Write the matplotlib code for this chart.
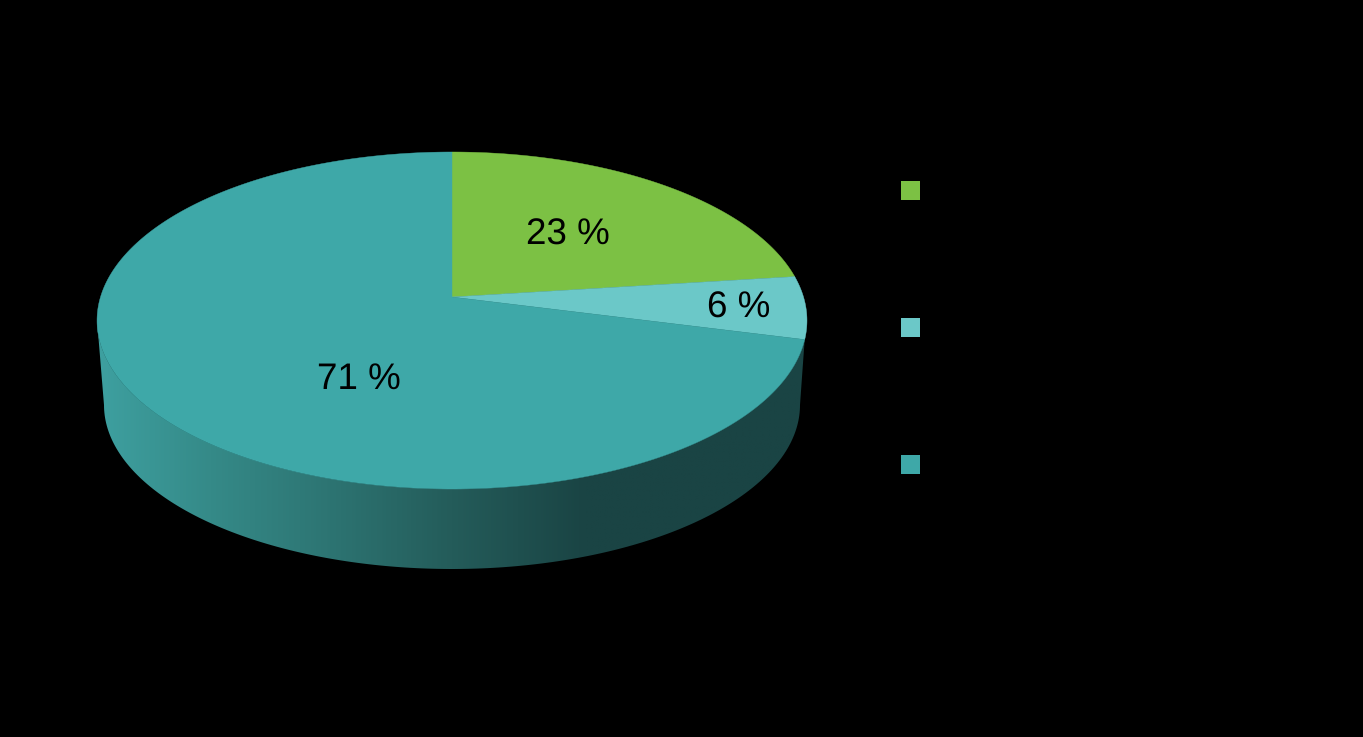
import numpy as np
import matplotlib.pyplot as plt
from matplotlib.colors import LinearSegmentedColormap
from matplotlib.patches import Polygon, Rectangle

plt.rcParams['font.family'] = ['Liberation Sans', 'DejaVu Sans']
plt.rcParams['text.hinting'] = 'no_hinting'

# shares, clockwise from 12 o'clock
shares = [23, 6, 71]
slice_colors = ['#7cc144', '#6bc8c8', '#3ea8a8']
label_pos = [(568, 235), (739, 308), (359, 379)]
legend_y = [181, 318, 455]

side_stops = [(97, '#3ea0a0'), (210, '#358a88'), (300, '#2f7a78'),
              (452, '#245c5a'), (585, '#1a4444'), (807, '#1a4444')]


def project(pct):
    # circle -> screen, perspective so the apex sits above the ellipse centre
    a = np.radians(np.asarray(pct) * 3.6)
    u, v = np.sin(a), np.cos(a)
    w = 1 + 0.1395 * v
    return np.column_stack([452 + 351.5 * u / w, (297 - 123.8 * v) / w])


def rim(start, end):
    return project(np.linspace(start, end, 300))


fig = plt.figure(figsize=(13.63, 7.37), dpi=100, facecolor='black')
ax = fig.add_axes([0, 0, 1, 1])
ax.set_facecolor('black')
ax.axis('off')

# side of the disc, gradient clipped to the outline
t = np.radians(np.linspace(0, 180, 200))
bottom = np.column_stack([452 + 348 * np.cos(t), 405 + 164 * np.sin(t)])
# front part of the top rim, right edge round to the leftmost point
front = rim(29, 72.8)
outline = np.vstack([bottom, front[::-1]])
side = Polygon(outline, closed=True, fc='none', ec='none')
ax.add_patch(side)
xs, cols = zip(*side_stops)
pos = (np.array(xs) - xs[0]) / (xs[-1] - xs[0])
cmap = LinearSegmentedColormap.from_list('side', list(zip(pos, cols)))
grad = ax.imshow(np.linspace(0, 1, 512)[None, :], cmap=cmap, aspect='auto',
                 extent=[xs[0], xs[-1], 570, 300], interpolation='bilinear')
grad.set_clip_path(side)

# top face
edges = np.cumsum([0] + shares)
for i, color in enumerate(slice_colors):
    pts = np.vstack([[[452, 297]], rim(edges[i], edges[i + 1])])
    ax.add_patch(Polygon(pts, closed=True, fc=color, ec=color, lw=0.3))

for share, (x, y) in zip(shares, label_pos):
    ax.text(x, y, f'{share} %', fontsize=26.5, color='black', ha='center', va='center')

# legend keys (legend text is black on black in the reference, not readable)
for y, color in zip(legend_y, slice_colors):
    ax.add_patch(Rectangle((901, y), 19, 19, fc=color, ec='none'))

ax.set_xlim(0, 1363)
ax.set_ylim(737, 0)
fig.savefig('out.png', dpi=100, facecolor='black')
